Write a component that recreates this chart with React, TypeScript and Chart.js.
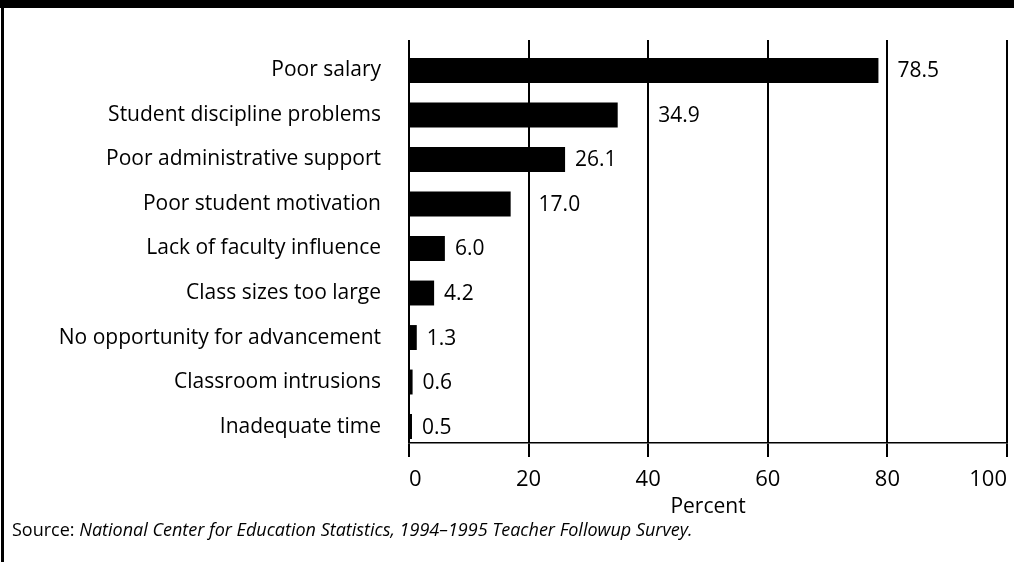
import React, { useEffect, useRef } from "react";
import { Chart, registerables } from "chart.js";

Chart.register(...registerables);

const categories = [
  "Poor salary",
  "Student discipline problems",
  "Poor administrative support",
  "Poor student motivation",
  "Lack of faculty influence",
  "Class sizes too large",
  "No opportunity for advancement",
  "Classroom intrusions",
  "Inadequate time",
];
const percentValues = [78.5, 34.9, 26.1, 17.0, 6.0, 4.2, 1.3, 0.6, 0.5];
const valueLabels = ["78.5", "34.9", "26.1", "17.0", "6.0", "4.2", "1.3", "0.6", "0.5"];
const xTickValues = [0, 20, 40, 60, 80, 100];
const axisTitle = "Percent";
const sourcePrefix = "Source: ";
const sourceText = "National Center for Education Statistics, 1994\u20131995 Teacher Followup Survey.";

const FONT = "'Open Sans', 'Noto Sans', sans-serif";

const framePlugin = {
  id: "frame",
  beforeDraw(chart: any) {
    const { ctx, width, height } = chart;
    ctx.save();
    ctx.fillStyle = "#ffffff";
    ctx.fillRect(0, 0, width, height);
    ctx.fillStyle = "#000000";
    ctx.fillRect(0, 0, width, 8);
    ctx.fillRect(1, 0, 3, height);
    ctx.restore();
  },
};

const valueLabelPlugin = {
  id: "valueLabels",
  afterDatasetsDraw(chart: any) {
    const { ctx } = chart;
    const xScale = chart.scales.x;
    const meta = chart.getDatasetMeta(0);
    const gridPx = xTickValues.map((v) => xScale.getPixelForValue(v));
    ctx.save();
    ctx.font = `21px ${FONT}`;
    ctx.fillStyle = "#000";
    ctx.textAlign = "left";
    ctx.textBaseline = "middle";
    meta.data.forEach((bar: any, i: number) => {
      const text = valueLabels[i];
      const w = ctx.measureText(text).width;
      let start = bar.x + 10;
      for (const gx of gridPx) {
        if (gx > start - 3 && gx < start + w + 3) start = gx + 10;
      }
      ctx.fillText(text, start, bar.y + 1);
    });
    ctx.restore();
  },
};

const footerPlugin = {
  id: "footerText",
  afterDraw(chart: any) {
    const { ctx, chartArea } = chart;
    ctx.save();
    ctx.fillStyle = "#000";
    ctx.textBaseline = "middle";
    ctx.textAlign = "center";
    ctx.font = `21px ${FONT}`;
    ctx.fillText(axisTitle, (chartArea.left + chartArea.right) / 2, 507);
    ctx.textAlign = "left";
    ctx.font = `18px ${FONT}`;
    ctx.fillText(sourcePrefix, 12, 531);
    const pw = ctx.measureText(sourcePrefix).width;
    ctx.font = `italic 18px ${FONT}`;
    ctx.fillText(sourceText, 12 + pw, 531);
    ctx.restore();
  },
};

export default function App() {
  const canvasRef = useRef<HTMLCanvasElement | null>(null);

  useEffect(() => {
    document.body.style.margin = "0";
    const canvas = canvasRef.current;
    if (!canvas) return;
    Chart.defaults.font.family = FONT;
    Chart.defaults.color = "#000";
    const chart = new Chart(canvas, {
      type: "bar",
      data: {
        datasets: [
          {
            label: axisTitle,
            data: categories.map((_, i) => ({ x: percentValues[i], y: i })),
            backgroundColor: "#000000",
            borderWidth: 0,
            categoryPercentage: 1,
            barPercentage: 0.56,
          },
        ],
      },
      options: {
        indexAxis: "y",
        animation: false,
        responsive: false,
        events: [],
        layout: { padding: { top: 40, left: 0, right: 0, bottom: 0 } },
        plugins: {
          legend: { display: false },
          tooltip: { enabled: false },
          title: { display: false },
        },
        scales: {
          x: {
            type: "linear",
            position: "bottom",
            min: 0,
            max: 100,
            afterBuildTicks: (scale: any) => {
              scale.ticks = xTickValues.map((v) => ({ value: v }));
            },
            afterFit: (scale: any) => {
              scale.height = 119;
              scale.paddingLeft = 0;
              scale.paddingRight = 7;
            },
            ticks: {
              align: "inner",
              padding: 10,
              color: "#000",
              font: { size: 22, family: FONT },
            },
            grid: {
              display: true,
              color: "#000",
              lineWidth: 2,
              drawTicks: true,
              tickLength: 14,
            },
            border: { display: true, color: "#000", width: 1.5 },
          },
          y: {
            type: "linear",
            reverse: true,
            offset: false,
            min: -0.685,
            max: 8.37,
            afterBuildTicks: (scale: any) => {
              scale.ticks = categories.map((_, i) => ({ value: i }));
            },
            afterFit: (scale: any) => {
              scale.width = 409;
              scale.paddingTop = 0;
              scale.paddingBottom = 0;
            },
            ticks: {
              padding: 28,
              color: "#000",
              font: { size: 21, family: FONT },
              callback: (value: any) => categories[Math.round(Number(value))] ?? "",
            },
            grid: { display: false, drawTicks: false, offset: false },
            border: { display: false },
          },
        },
      },
      plugins: [framePlugin, valueLabelPlugin, footerPlugin],
    } as any);
    return () => chart.destroy();
  }, []);

  return (
    <div style={{ width: 1014, height: 562 }}>
      <canvas ref={canvasRef} width={1014} height={562} />
    </div>
  );
}
